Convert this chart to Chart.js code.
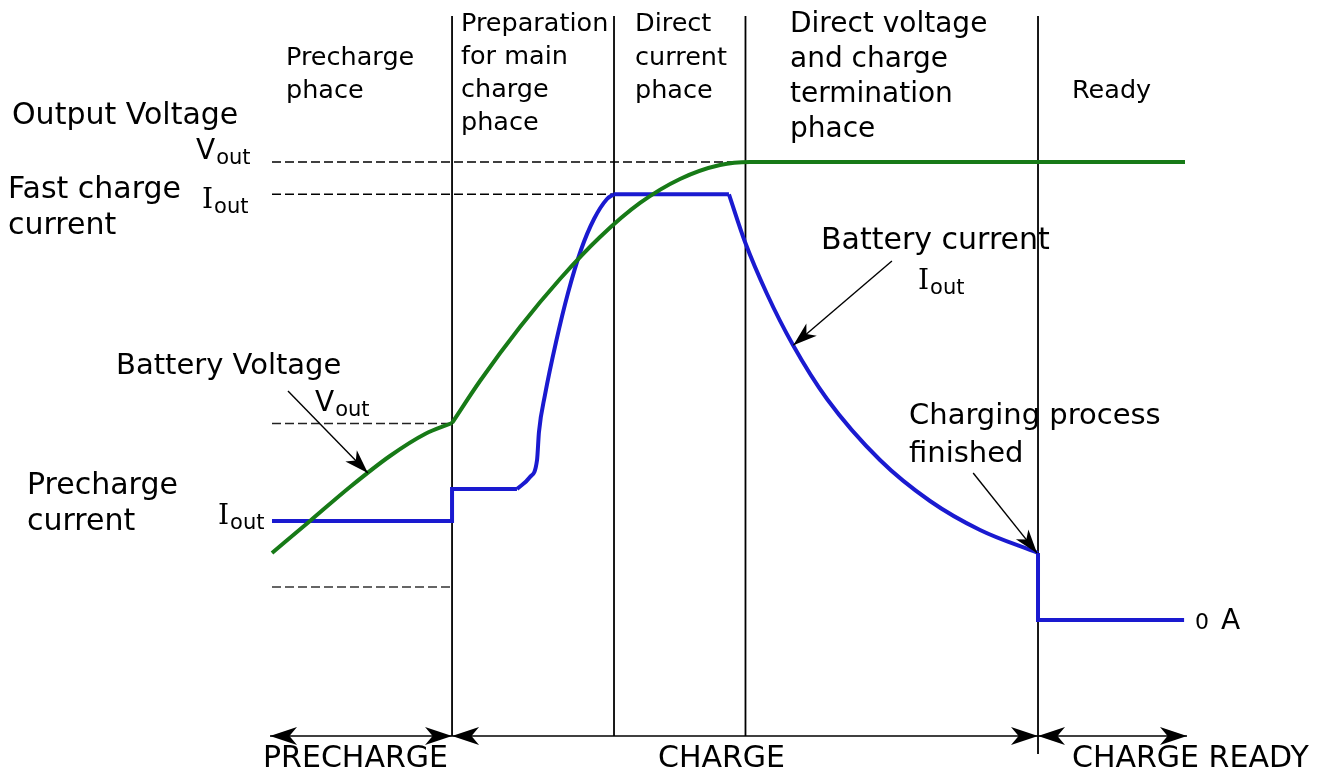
<!DOCTYPE html>
<html><head><meta charset="utf-8">
<script src="https://cdn.jsdelivr.net/npm/chart.js@4/dist/chart.umd.min.js"></script>
<style>html,body{margin:0;padding:0;background:#fff;overflow:hidden}</style>
</head><body>
<canvas id="c" width="1332" height="772"></canvas>
<script>
// ---- data (time in % of diagram span, level in % of output voltage) ----
const phaseBounds = [19.72, 37.46, 51.86, 83.9];
const levelVout = 100;
const levelIfast = 92.95;
const levelVpre = 42.9;
const levelLow = 7.2;

const voltagePre = [[0,14.63],[4.16,21.62],[8.54,29.04],[12.92,35.81],[16.76,40.61],[19.72,43.01]];
const voltageMain = [[19.72,43.01],[22.78,52.18],[27.16,63.97],[31.54,74.45],[35.93,83.62],[40.31,91.05],[44.69,96.29],[49.07,99.34],[52.35,100],[100,100]];

const currentSteps = [[0,21.6],[19.72,21.6],[19.72,28.6],[26.83,28.6]];
const currentRise = [[26.83,28.6],[28.26,31.22],[29.03,34.93],[29.24,41.05],[29.90,49.13],[31.11,60.70],[32.42,71.40],[33.84,80.79],[35.27,87.55],[36.69,91.92],[37.40,92.95]];
const currentFlat = [[37.40,92.95],[50.05,92.95]];
const currentDecay = [[50.05,92.95],[51.81,82.53],[54.22,71.18],[57.06,60.04],[60.79,48.25],[66.59,34.93],[72.07,25.98],[77.55,19.65],[83.90,14.63]];
const currentEnd = [[83.90,14.63],[83.90,0],[99.9,0]];

const BLUE = '#1a1ad0', GREEN = '#177a17';
const FONT = "'DejaVu Sans'";
const SERIF = "'DejaVu Serif'";

const pts = a => a.map(p => ({x:p[0], y:p[1]}));
function ds(arr, color, smooth){
  return {data: pts(arr), borderColor: color, borderWidth: 4, pointRadius: 0, fill: false,
    clip: false, tension: 0, cubicInterpolationMode: smooth ? 'monotone' : 'default', borderJoinStyle: 'miter'};
}

function txt(ctx, s, x, y, size, family){
  ctx.save();
  ctx.font = size + 'px ' + (family || FONT);
  ctx.textBaseline = 'alphabetic';
  ctx.textAlign = 'left';
  ctx.fillStyle = '#000';
  ctx.fillText(s, x, y);
  const w = ctx.measureText(s).width;
  ctx.restore();
  return w;
}
function sub(ctx, main, x, y, fam){
  const w = txt(ctx, main, x, y, 28, fam);
  txt(ctx, 'out', x + w + 1, y + 5, 21, FONT);
}
function head(ctx, tx, ty, ang, L, W){
  const c = Math.cos(ang), s = Math.sin(ang);
  const P = (a, b) => [tx - a*c + b*s, ty - a*s - b*c];
  const p1 = P(L, W), p2 = P(L*0.72, 0), p3 = P(L, -W);
  ctx.beginPath(); ctx.moveTo(tx, ty);
  ctx.lineTo(p1[0], p1[1]); ctx.lineTo(p2[0], p2[1]); ctx.lineTo(p3[0], p3[1]);
  ctx.closePath(); ctx.fill();
}
function arrow(ctx, x1, y1, x2, y2){
  ctx.beginPath(); ctx.moveTo(x1, y1); ctx.lineTo(x2, y2); ctx.stroke();
  head(ctx, x2, y2, Math.atan2(y2 - y1, x2 - x1), 24, 8);
}
function dbl(ctx, x1, x2, y){
  ctx.beginPath(); ctx.moveTo(x1, y); ctx.lineTo(x2, y); ctx.stroke();
  head(ctx, x1, y, Math.PI, 27, 9);
  head(ctx, x2, y, 0, 27, 9);
}

const backdrop = {
  id: 'backdrop',
  beforeDatasetsDraw(chart){
    const ctx = chart.ctx, X = chart.scales.x, Y = chart.scales.y;
    ctx.save();
    ctx.strokeStyle = '#000'; ctx.lineWidth = 1.8;
    phaseBounds.forEach((b, i) => {
      const px = X.getPixelForValue(b);
      ctx.beginPath(); ctx.moveTo(px, 16); ctx.lineTo(px, i === 3 ? 754 : 736); ctx.stroke();
    });
    ctx.setLineDash([9, 4]);
    ctx.lineWidth = 1.6;
    const dash = (lvl, tEnd, col) => {
      ctx.strokeStyle = col;
      const py = Y.getPixelForValue(lvl);
      ctx.beginPath(); ctx.moveTo(X.getPixelForValue(0), py); ctx.lineTo(X.getPixelForValue(tEnd), py); ctx.stroke();
    };
    dash(levelVout, phaseBounds[2], '#000');
    dash(levelIfast, currentFlat[0][0], '#000');
    dash(levelVpre, phaseBounds[0], '#222');
    dash(levelLow, phaseBounds[0], '#333');
    ctx.restore();
  },
  afterDatasetsDraw(chart){
    const ctx = chart.ctx, X = chart.scales.x, Y = chart.scales.y;
    ctx.save();
    ctx.fillStyle = '#000'; ctx.strokeStyle = '#000'; ctx.lineWidth = 1.6;
    // bottom phase arrows
    const by = 736;
    const x0 = X.getPixelForValue(0) - 2, x1 = X.getPixelForValue(phaseBounds[0]),
          x4 = X.getPixelForValue(phaseBounds[3]), x5 = X.getPixelForValue(100) + 2;
    dbl(ctx, x0, x1, by); dbl(ctx, x1, x4, by); dbl(ctx, x4, x5, by);
    // annotation arrows (tails -> tips on the curves)
    ctx.lineWidth = 1.4;
    arrow(ctx, X.getPixelForValue(1.75), Y.getPixelForValue(50.0), X.getPixelForValue(10.5), Y.getPixelForValue(32.1));
    arrow(ctx, X.getPixelForValue(67.9), Y.getPixelForValue(78.4), X.getPixelForValue(57.1), Y.getPixelForValue(60.0));
    arrow(ctx, X.getPixelForValue(76.8), Y.getPixelForValue(32.1), X.getPixelForValue(83.8), Y.getPixelForValue(14.6));

    // phase captions
    [['Precharge',65],['phace',98]].forEach(a => txt(ctx, a[0], 286, a[1], 25.5));
    [['Preparation',31],['for main',64],['charge',97],['phace',130]].forEach(a => txt(ctx, a[0], 461, a[1], 25.5));
    [['Direct',31],['current',65],['phace',98]].forEach(a => txt(ctx, a[0], 635, a[1], 25.5));
    [['Direct voltage',32],['and charge',67],['termination',102],['phace',137]].forEach(a => txt(ctx, a[0], 790, a[1], 28));
    txt(ctx, 'Ready', 1072, 98, 25.5);

    // left captions
    txt(ctx, 'Output Voltage', 12, 124, 30);
    txt(ctx, 'Fast charge', 8, 198, 30);
    txt(ctx, 'current', 8, 234, 30);
    txt(ctx, 'Battery Voltage', 116, 374, 29);
    txt(ctx, 'Precharge', 27, 494, 30);
    txt(ctx, 'current', 27, 530, 30);
    txt(ctx, 'Battery current', 821, 249, 30);
    txt(ctx, 'Charging process', 909, 424, 29);
    txt(ctx, 'finished', 909, 462, 29);

    // level symbols
    sub(ctx, 'V', 196, 159, FONT);
    sub(ctx, 'I', 202, 208, SERIF);
    sub(ctx, 'V', 315, 411, FONT);
    sub(ctx, 'I', 918, 289, SERIF);
    sub(ctx, 'I', 218, 524, SERIF);
    txt(ctx, '0', 1195, 629, 22);
    txt(ctx, 'A', 1221, 629, 28);

    // bottom captions
    txt(ctx, 'PRECHARGE', 263, 767, 30);
    txt(ctx, 'CHARGE', 658, 767, 30);
    txt(ctx, 'CHARGE READY', 1072, 767, 30);
    ctx.restore();
  }
};

new Chart(document.getElementById('c'), {
  type: 'line',
  data: {
    datasets: [
      ds(voltagePre, GREEN, true),
      ds(voltageMain, GREEN, true),
      ds(currentSteps, BLUE, false),
      ds(currentRise, BLUE, true),
      ds(currentFlat, BLUE, false),
      ds(currentDecay, BLUE, true),
      ds(currentEnd, BLUE, false)
    ]
  },
  options: {
    responsive: false,
    animation: false,
    devicePixelRatio: 1,
    layout: {padding: {left: 272, right: 147, top: 162, bottom: 152}},
    scales: {
      x: {type: 'linear', min: 0, max: 100, display: false},
      y: {type: 'linear', min: 0, max: 100, display: false}
    },
    plugins: {legend: {display: false}, tooltip: {enabled: false}}
  },
  plugins: [backdrop]
});
</script>
</body></html>
